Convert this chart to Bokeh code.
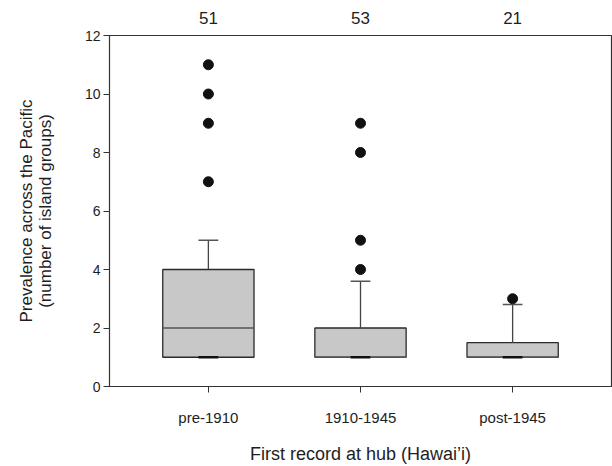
from bokeh.plotting import figure
from bokeh.models import Range1d, LinearAxis, FixedTicker
from bokeh.embed import file_html
from bokeh.resources import INLINE

categories = ["pre-1910", "1910-1945", "post-1945"]
counts = ["51", "53", "21"]
q1 = [1, 1, 1]
median = [2, 1, 1]
q3 = [4, 2, 1.5]
whisker_low = [1, 1, 1]
whisker_high = [5, 3.6, 2.8]
outlier_group = [0, 0, 0, 0, 1, 1, 1, 1, 2]   # index into categories
outlier_val = [7, 9, 10, 11, 4, 5, 8, 9, 3]
y_ticks = [0, 2, 4, 6, 8, 10, 12]

FONT = "Liberation Sans"
TXT = "#1e1e1e"

xpos = [i + 1 for i in range(len(categories))]
opos = [xpos[g] for g in outlier_group]
BOX_HALF = 0.3
CAP_HALF = 0.065

p = figure(width=612, height=466, output_backend="svg", toolbar_location=None,
           x_range=Range1d(0.35, len(categories) + 0.65),
           y_range=Range1d(0, 12),
           min_border_left=109, min_border_right=1, min_border_top=35, min_border_bottom=80)
p.grid.visible = False
p.outline_line_color = "#333333"
p.outline_line_width = 1.2
p.background_fill_color = "white"
p.border_fill_color = "white"

# boxes
p.vbar(x=xpos, bottom=q1, top=q3, width=2 * BOX_HALF, fill_color="#c8c8c8",
       line_color="#2a2a2a", line_width=1.3)
# medians
p.segment(x0=[x - BOX_HALF for x in xpos], x1=[x + BOX_HALF for x in xpos],
          y0=median, y1=median, line_color="#555555", line_width=1.5)
# whiskers
p.segment(x0=xpos, x1=xpos, y0=q3, y1=whisker_high,
          line_color="#444444", line_width=1.3)
p.segment(x0=[x - CAP_HALF for x in xpos], x1=[x + CAP_HALF for x in xpos],
          y0=whisker_high, y1=whisker_high, line_color="#555555", line_width=1.5)
p.segment(x0=[x - CAP_HALF for x in xpos], x1=[x + CAP_HALF for x in xpos],
          y0=whisker_low, y1=whisker_low, line_color="#111111", line_width=2.5)
# outliers
p.scatter(x=opos, y=outlier_val, size=10, fill_color="#111111", line_color="#111111")

# y axis
ya = p.yaxis[0]
ya.ticker = FixedTicker(ticks=y_ticks)
ya.minor_tick_line_color = None
ya.major_tick_out = 6
ya.major_tick_in = 0
ya.axis_line_color = "#333333"
ya.major_tick_line_color = "#333333"
ya.major_label_text_font = FONT
ya.major_label_text_font_size = "14px"
ya.major_label_text_color = TXT
ya.major_label_standoff = 3
ya.axis_label = "Prevalence across the Pacific\n(number of island groups)"
ya.axis_label_text_font = FONT
ya.axis_label_text_font_size = "17px"
ya.axis_label_text_font_style = "normal"
ya.axis_label_text_color = TXT
ya.axis_label_text_line_height = 1.0
ya.axis_label_standoff = 27

# x axis
xa = p.xaxis[0]
xa.ticker = FixedTicker(ticks=xpos)
xa.major_label_overrides = {x: c for x, c in zip(xpos, categories)}
xa.minor_tick_line_color = None
xa.major_tick_out = 6
xa.major_tick_in = 0
xa.axis_line_color = "#333333"
xa.major_tick_line_color = "#333333"
xa.major_label_text_font = FONT
xa.major_label_text_font_size = "15px"
xa.major_label_text_color = TXT
xa.major_label_standoff = 16
xa.axis_label = "First record at hub (Hawai\u2019i)"
xa.axis_label_text_font = FONT
xa.axis_label_text_font_size = "18px"
xa.axis_label_text_font_style = "normal"
xa.axis_label_text_color = TXT
xa.axis_label_standoff = 15

# top counts
top = LinearAxis(ticker=FixedTicker(ticks=xpos),
                 major_label_overrides={x: c for x, c in zip(xpos, counts)})
top.axis_line_color = None
top.major_tick_line_color = None
top.minor_tick_line_color = None
top.major_label_text_font = FONT
top.major_label_text_font_size = "17px"
top.major_label_text_color = TXT
top.major_label_standoff = 6
p.add_layout(top, "above")

open("out.html", "w").write(file_html(p, INLINE))
